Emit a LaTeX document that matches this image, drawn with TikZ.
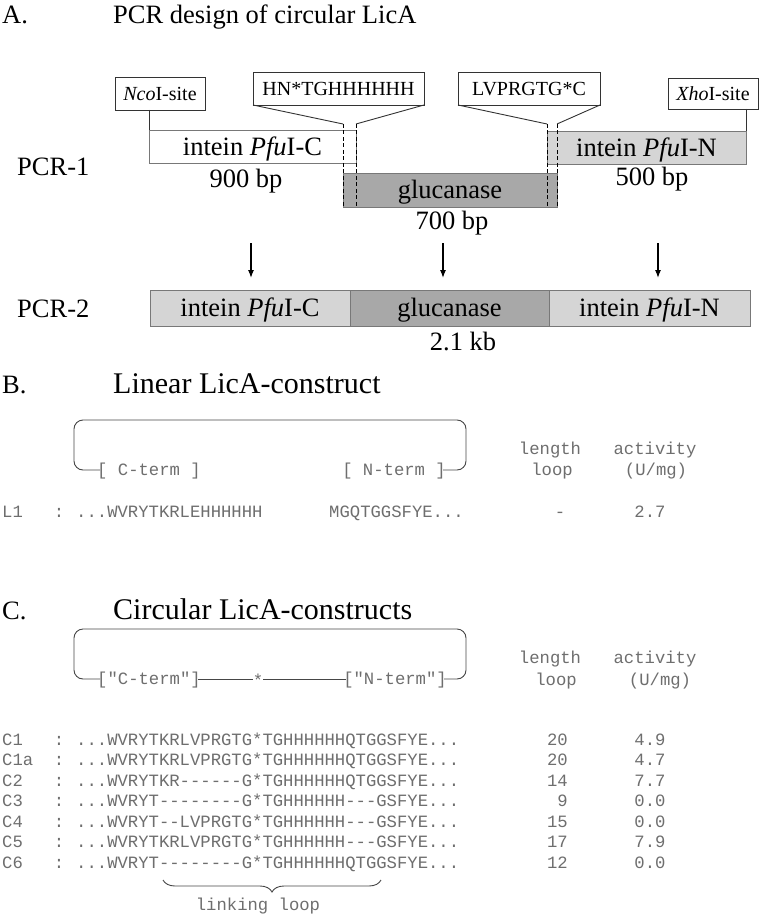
\documentclass[tikz,border=0pt]{standalone}
\usepackage{fontspec}
\setmainfont{Liberation Serif}
\setmonofont{Liberation Mono}
\usetikzlibrary{arrows.meta}
\usetikzlibrary{calc}
\usetikzlibrary{decorations.pathreplacing}
\tikzset{>=latex}
\definecolor{glucgray}{RGB}{168,168,168}
\definecolor{inteingray}{RGB}{213,213,213}
\definecolor{framegray}{RGB}{120,120,120}
\definecolor{seqgray}{RGB}{110,110,110}
\definecolor{loopgray}{RGB}{70,70,70}
\newcommand{\seqdots}{...}
\tikzstyle{titletext}=[inner sep=0pt, font=\fontsize{26.5}{30}\selectfont]
\tikzstyle{captext}=[inner sep=0pt, font=\fontsize{30}{34}\selectfont]
\tikzstyle{bigtext}=[inner sep=0pt, font=\fontsize{26.5}{30}\selectfont, text height=17.5pt, text depth=0pt]
\tikzstyle{fragment}=[draw=framegray, line width=0.9pt, inner sep=0pt, outer sep=0pt, minimum height=33pt, font=\fontsize{26.5}{30}\selectfont, text height=17.5pt, text depth=0pt]
\tikzstyle{sitebox}=[draw=black!80, fill=white, line width=0.9pt, inner sep=0pt, outer sep=0pt, minimum height=33pt, font=\fontsize{20}{22}\selectfont, text height=13.5pt, text depth=0pt]
\tikzstyle{cutline}=[draw=black!80, line width=0.9pt]
\tikzstyle{arrowline}=[draw=black, line width=1.2pt, -{Latex[length=8pt,width=6pt]}]
\tikzstyle{seq}=[inner sep=0pt, font=\ttfamily\fontsize{17.25}{20}\selectfont, text=seqgray, text height=10pt, text depth=0pt]
\tikzstyle{loopline}=[draw=loopgray, line width=0.9pt]

\begin{document}
\begin{tikzpicture}[x=1pt,y=-1pt]
  \useasboundingbox (0,0) rectangle (760,917);

  % A
  \node[titletext, anchor=base west] (labA) at (2,24) {A.};
  \node[titletext, anchor=base west] (titleA) at (113,24) {PCR design of circular LicA};

  \node[bigtext, anchor=west] (pcr1) at (17,167) {PCR-1};
  \node[fragment, fill=white, minimum width=207pt, anchor=north west] (pfuC) at (149,130) {intein \textit{Pfu}I-C};
  \node[fragment, fill=glucgray, minimum width=214pt, minimum height=34pt, anchor=north west] (gluc) at (343,173) {glucanase};
  \node[fragment, fill=inteingray, minimum width=199pt, anchor=north west] (pfuN) at (547,131) {intein \textit{Pfu}I-N};
  \node[bigtext] (bpC) at (246,179) {900 bp};
  \node[bigtext] (bpG) at (452,221) {700 bp};
  \node[bigtext] (bpN) at (652,177) {500 bp};

  \node[sitebox, minimum width=90pt, anchor=north west] (nco) at (115,77) {\textit{Nco}I-site};
  \node[sitebox, minimum width=171pt, anchor=north west] (hn) at (253,72) {HN*TGHHHHHH};
  \node[sitebox, minimum width=142pt, anchor=north west] (lv) at (458,72) {LVPRGTG*C};
  \node[sitebox, minimum width=90pt, minimum height=31pt, anchor=north west] (xho) at (668,78) {\textit{Xho}I-site};

  \draw[cutline] (nco.south -| pfuC.west) -- (pfuC.north west);
  \draw[cutline] (xho.south -| pfuN.east) -- (pfuN.north east);

  \coordinate (cut1) at (343,124);
  \coordinate (cut2) at (356,124);
  \coordinate (cut3) at (547,124);
  \coordinate (cut4) at (557,124);
  \draw[cutline] (hn.south west) -- (cut1);
  \draw[cutline] (hn.south east) -- (cut2);
  \draw[cutline] (lv.south west) -- (cut3);
  \draw[cutline] (lv.south east) -- (cut4);
  \foreach \c in {cut1,cut2,cut3,cut4}
    \draw[black, line width=0.9pt, dash pattern=on 4pt off 2.5pt] (\c) -- (\c |- gluc.south);

  \foreach \x/\n in {251/1,443/2,658/3} {
    \coordinate (up\n) at (\x,243);
    \coordinate (dn\n) at (\x,278);
    \draw[arrowline] (up\n) -- (dn\n);
  }

  \node[bigtext, anchor=west] (pcr2) at (17,309) {PCR-2};
  \node[fragment, fill=inteingray, minimum width=200pt, minimum height=36pt, anchor=north west] (twoC) at (150,290) {intein \textit{Pfu}I-C};
  \node[fragment, fill=glucgray, minimum width=199pt, minimum height=36pt, anchor=north west] (twoG) at (twoC.north east) {glucanase};
  \node[fragment, fill=inteingray, minimum width=201pt, minimum height=36pt, anchor=north west] (twoN) at (twoG.north east) {intein \textit{Pfu}I-N};
  \node[bigtext] (kb) at (463,342) {2.1 kb};

  % B
  \node[titletext, anchor=base west] (labB) at (2,393) {B.};
  \node[captext, anchor=base west] (titleB) at (113,393) {Linear LicA-construct};

  \node[seq, anchor=west] (ctermB) at (97,470) {[ C-term ]};
  \node[seq, anchor=east] (ntermB) at (446,470) {[ N-term ]};
  \draw[loopline, rounded corners=9pt, shorten <=-3pt, shorten >=-3pt] (ctermB.west) -| (74,420) -| (466,470) -- (ntermB.east);

  \node[seq] (lenB) at (550,449) {length};
  \node[seq] (loopB) at (552,470) {loop};
  \node[seq] (actB) at (655,449) {activity};
  \node[seq] (unitB) at (656,470) {(U/mg)};

  \node[seq, anchor=west] (rowL) at (2,512) {L1};
  \node[seq] (colL) at (59,512) {:};
  \node[seq, anchor=west] (seqL) at (76,512) {\seqdots WVRYTKRLEHHHHHH};
  \node[seq, anchor=west] (seqLn) at (329,512) {MGQTGGSFYE\seqdots};
  \node[seq] (lenL) at (560,512) {-};
  \node[seq] (actL) at (650,512) {2.7};

  % C
  \node[titletext, anchor=base west] (labC) at (2,619) {C.};
  \node[captext, anchor=base west] (titleC) at (113,619) {Circular LicA-constructs};

  \node[seq, anchor=west] (ctermC) at (97,679) {["C-term"]};
  \node[seq] (star) at (258,681) {*};
  \node[seq, anchor=east] (ntermC) at (447,679) {["N-term"]};
  \draw[loopline, rounded corners=9pt, shorten <=-3pt, shorten >=-3pt] (ctermC.west) -| (74,629) -| (466,679) -- (ntermC.east);
  \draw[loopline, shorten <=-3pt] (ctermC.east) -- (star.west |- ctermC.east);
  \draw[loopline, shorten >=-3pt] (star.east |- ntermC.west) -- (ntermC.west);

  \node[seq] (lenC) at (550,658) {length};
  \node[seq] (loopC) at (556,680) {loop};
  \node[seq] (actC) at (655,658) {activity};
  \node[seq] (unitC) at (660,680) {(U/mg)};

  \foreach \name/\sq/\len/\act [count=\i from 0] in {
      C1/\seqdots WVRYTKRLVPRGTG*TGHHHHHHQTGGSFYE\seqdots/20/4.9,
      C1a/\seqdots WVRYTKRLVPRGTG*TGHHHHHHQTGGSFYE\seqdots/20/4.7,
      C2/\seqdots WVRYTKR------G*TGHHHHHHQTGGSFYE\seqdots/14/7.7,
      C3/\seqdots WVRYT--------G*TGHHHHHH---GSFYE\seqdots/9/0.0,
      C4/\seqdots WVRYT--LVPRGTG*TGHHHHHH---GSFYE\seqdots/15/0.0,
      C5/\seqdots WVRYTKRLVPRGTG*TGHHHHHH---GSFYE\seqdots/17/7.9,
      C6/\seqdots WVRYT--------G*TGHHHHHHQTGGSFYE\seqdots/12/0.0} {
    \node[seq, anchor=west] (row\i) at (2,{740+20.5*\i}) {\name};
    \node[seq] (col\i) at (59,{740+20.5*\i}) {:};
    \node[seq, anchor=west] (seq\i) at (76,{740+20.5*\i}) {\sq};
    \node[seq, anchor=east] (len\i) at (568,{740+20.5*\i}) {\len};
    \node[seq] (act\i) at (650,{740+20.5*\i}) {\act};
  }

  \coordinate (braceL) at (163,880);
  \coordinate (braceR) at (381,880);
  \draw[loopline, decorate, decoration={brace, mirror, amplitude=12pt}] (braceL) -- (braceR);
  \node[seq] (linking) at (258,905) {linking loop};
\end{tikzpicture}
\end{document}
